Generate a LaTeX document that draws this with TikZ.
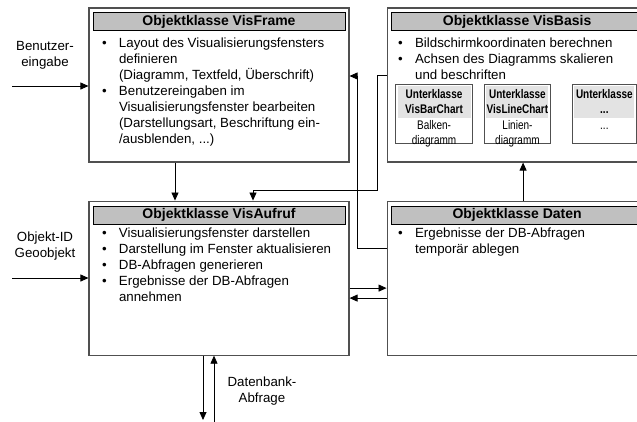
\documentclass[tikz,border=0pt]{standalone}
\usepackage{fontspec}
\setmainfont{Liberation Sans}
\newfontfamily\schmal[FakeStretch=0.8]{Liberation Sans}
\usetikzlibrary{calc}
\usetikzlibrary{positioning}
\usetikzlibrary{arrows.meta}
\definecolor{color_kopf}{HTML}{c0c0c0}
\definecolor{color_unterkopf}{HTML}{e3e3e3}
\definecolor{color_rand}{HTML}{505050}

\newcommand{\punktliste}[1]{\begin{tabular}{@{}p{17pt}@{}l@{}}#1\end{tabular}}

\begin{document}
\begin{tikzpicture}[x=1pt, y=-1pt, >={Triangle[length=8pt,width=7pt]}, font=\fontsize{13.3}{16}\selectfont]
  \tikzset{ % Stile der Knoten:
      klasse/.style = {rectangle, draw=color_rand, line width=1.1pt, minimum width=260pt, minimum height=154pt, inner sep=0pt},
      kopf/.style = {rectangle, draw=black, fill=color_kopf, minimum width=252pt, minimum height=18pt, inner sep=0pt, font=\fontsize{14}{16}\selectfont\bfseries},
      liste/.style = {anchor=north west, inner sep=0pt, align=left},
      unterbox/.style = {rectangle, draw=color_rand, line width=0.9pt, minimum height=59pt, inner sep=0pt},
      unterkopf/.style = {fill=color_unterkopf, inner sep=0pt, minimum height=32pt, align=center, font=\fontsize{12.5}{15}\selectfont\schmal\bfseries},
      untertext/.style = {inner sep=0pt, align=center, font=\fontsize{12.5}{15}\selectfont\schmal},
      aussen/.style = {align=center, inner sep=0pt},
      pfeil/.style = {->, line width=0.8pt},
  }
  \path[use as bounding box] (0,0) rectangle (637,421);
  \clip (0,0) rectangle (637,421);

  \node (frame) [klasse] at (219,85) {};
  \node (basis) [klasse, right=37pt of frame] {};
  \node (aufruf) [klasse, below=38pt of frame] {};
  \node (daten) [klasse, below=38pt of basis] {};

  \node (framekopf) [kopf, below=5pt of frame.north] {Objektklasse VisFrame};
  \node (basiskopf) [kopf, below=5pt of basis.north] {Objektklasse VisBasis};
  \node (aufrufkopf) [kopf, below=5pt of aufruf.north] {Objektklasse VisAufruf};
  \node (datenkopf) [kopf, below=5pt of daten.north] {Objektklasse Daten};

  \node (frameliste) [liste] at ($(framekopf.south west)+(9,5)$) {\punktliste{
    \textbullet & Layout des Visualisierungsfensters\\
     & definieren\\
     & (Diagramm, Textfeld, Überschrift)\\
    \textbullet & Benutzereingaben im\\
     & Visualisierungsfenster bearbeiten\\
     & (Darstellungsart, Beschriftung ein-\\
     & /ausblenden, ...)}};
  \node (basisliste) [liste] at ($(basiskopf.south west)+(7,5)$) {\punktliste{
    \textbullet & Bildschirmkoordinaten berechnen\\
    \textbullet & Achsen des Diagramms skalieren\\
     & und beschriften}};
  \node (aufrufliste) [liste] at ($(aufrufkopf.south west)+(9,2)$) {\punktliste{
    \textbullet & Visualisierungsfenster darstellen\\
    \textbullet & Darstellung im Fenster aktualisieren\\
    \textbullet & DB-Abfragen generieren\\
    \textbullet & Ergebnisse der DB-Abfragen\\
     & annehmen}};
  \node (datenliste) [liste] at ($(datenkopf.south west)+(7,2)$) {\punktliste{
    \textbullet & Ergebnisse der DB-Abfragen\\
     & temporär ablegen}};

  % Unterklassen
  \node (barchart) [unterbox, minimum width=77pt] at ($(basis.west)+(47.5,28.5)$) {};
  \node (linechart) [unterbox, minimum width=66pt, right=11pt of barchart] {};
  \node (weitere) [unterbox, minimum width=64pt, right=21pt of linechart] {};
  \node (barkopf) [unterkopf, minimum width=73pt, below=2pt of barchart.north] {Unterklasse\\VisBarChart};
  \node (linekopf) [unterkopf, minimum width=62pt, below=2pt of linechart.north] {Unterklasse\\VisLineChart};
  \node (weiterkopf) [unterkopf, minimum width=60pt, below=2pt of weitere.north] {Unterklasse\\...};
  \node (bartext) [untertext, below=1pt of barkopf] {\strut Balken-\\\strut diagramm};
  \node (linetext) [untertext, below=1pt of linekopf] {\strut Linien-\\\strut diagramm};
  \node (weitertext) [untertext, below=1pt of weiterkopf] {\strut ...};

  % Eingaben von aussen
  \coordinate (benutzer) at (12,86);
  \node (benutzerlabel) [aussen] at (45,55) {Benutzer-\\eingabe};
  \draw[pfeil] (benutzer) -- (benutzer -| frame.west);
  \coordinate (objekt) at (12,278);
  \node (objektlabel) [aussen] at (45,246) {Objekt-ID\\Geoobjekt};
  \draw[pfeil] (objekt) -- (objekt -| aufruf.west);

  \draw[pfeil] ($(frame.south)+(-44,0)$) -- ($(aufruf.north)+(-44,0)$);
  \draw[pfeil] ($(basis.west)+(0,-10)$) -- ++(-9,0) |- ($(aufruf.north)+(34,-10)$) -- ($(aufruf.north)+(34,0)$);
  \draw[pfeil] ($(daten.west)+(0,-30)$) -- ++(-29,0) |- ($(frame.east)+(0,-9)$);
  \draw[pfeil] ($(daten.north)+(6,0)$) -- ($(basis.south)+(6,0)$);
  \draw[pfeil] ($(aufruf.east)+(0,10)$) -- ($(daten.west)+(0,10)$);
  \draw[pfeil] ($(daten.west)+(0,20)$) -- ($(aufruf.east)+(0,20)$);

  % Datenbank
  \coordinate (dbaus) at (203,420);
  \coordinate (dbein) at (214,422);
  \node (dblabel) [aussen] at (262,391) {Datenbank-\\Abfrage};
  \draw[pfeil] ($(aufruf.south)+(-16,0)$) -- (dbaus);
  \draw[pfeil] (dbein) -- ($(aufruf.south)+(-5,0)$);
\end{tikzpicture}
\end{document}
